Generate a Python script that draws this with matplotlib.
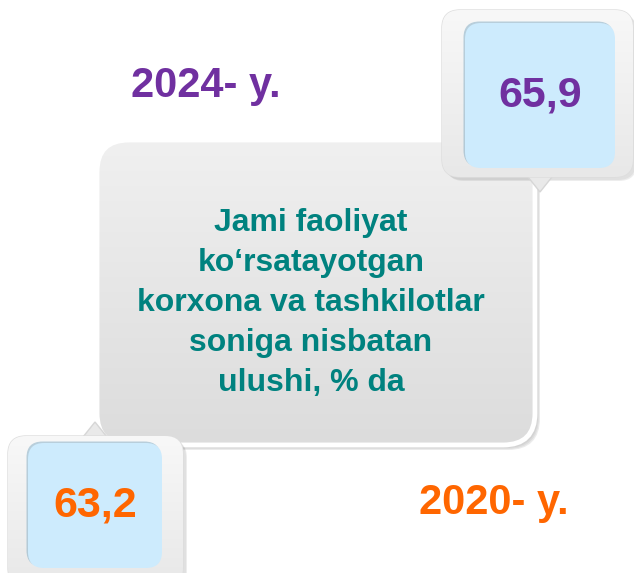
import matplotlib
matplotlib.use("Agg")
import matplotlib.pyplot as plt
import numpy as np
from matplotlib.patches import FancyBboxPatch, Polygon

# -------------------------- data --------------------------
years = ["2024- y.", "2020- y."]
values = [65.9, 63.2]
year_colors = ["#7030A0", "#FF6600"]
center_lines = ["Jami faoliyat", "ko\u2018rsatayotgan", "korxona va tashkilotlar",
                "soniga nisbatan", "ulushi, % da"]
TEAL = "#00827F"
BLUE = "#CDEBFD"

plt.rcParams['font.family'] = ['Liberation Sans', 'DejaVu Sans']

fig = plt.figure(figsize=(6.34, 5.73), dpi=100)
ax = fig.add_axes([0, 0, 1, 1])
ax.set_xlim(0, 634)
ax.set_ylim(573, 0)
ax.axis("off")


def rbox(x, y, w, h, r, **kw):
    p = FancyBboxPatch((x, y), w, h, boxstyle=f"round,pad=0,rounding_size={r}", **kw)
    ax.add_patch(p)
    return p


def gradient(patch, c_top, c_bot, extent, z):
    g = np.linspace(0, 1, 256)[:, None]
    top = np.array(matplotlib.colors.to_rgb(c_top))
    bot = np.array(matplotlib.colors.to_rgb(c_bot))
    img = top * (1 - g[..., None]) + bot * g[..., None]
    img = np.repeat(img, 2, axis=1)
    im = ax.imshow(img, extent=extent, aspect="auto", zorder=z, interpolation="bilinear")
    im.set_clip_path(patch)


# central gray box: shadow + gradient body + white rim
for i, a in enumerate([0.04, 0.06, 0.08]):
    rbox(97 + 3 + i, 140 + 3 + i, 438, 305, 32, fc="#000000", ec="none", alpha=a, zorder=1)
body = rbox(97, 140, 438, 305, 32, fc="#e4e4e4", ec="none", zorder=2)
gradient(body, "#f0f0f0", "#dcdcdc", (97, 535, 445, 140), 2.1)
rbox(97, 140, 438, 305, 32, fc="none", ec="white", lw=3.5, zorder=2.2)

for i, line in enumerate(center_lines):
    ax.text(311, 223 + 40 * i, line, ha="center", va="center", fontsize=23,
            fontweight="bold", color=TEAL, zorder=3)


# callouts (value boxes)
def callout(ox, oy, ow, oh, tip, base_y, inner, value, color, z):
    for i, a in enumerate([0.05, 0.07]):
        rbox(ox + 3 + i, oy + 3 + i, ow, oh, 18, fc="#000000", ec="none", alpha=a, zorder=z)
    tx, ty = tip
    ax.add_patch(Polygon([(tx - 16, base_y), (tx, ty), (tx + 16, base_y)], closed=True,
                         fc="#e9e9e9", ec="#d6d6d6", lw=1, zorder=z + 0.05))
    frame = rbox(ox, oy, ow, oh, 18, fc="#efefef", ec="#dddddd", lw=1, zorder=z + 0.1)
    gradient(frame, "#f8f8f8", "#e8e8e8", (ox, ox + ow, oy + oh, oy), z + 0.15)
    ix, iy, iw, ih = inner
    rbox(ix - 1.5, iy - 1.5, iw, ih, 16, fc="#8fb4c9", ec="none", alpha=0.6, zorder=z + 0.3)
    rbox(ix, iy, iw, ih, 16, fc=BLUE, ec="none", zorder=z + 0.4)
    ax.text(ix + iw / 2, iy + ih / 2, f"{value:.1f}".replace(".", ","), ha="center",
            va="center", fontsize=31, fontweight="bold", color=color, zorder=z + 0.5)


callout(442, 10, 191, 167, (540, 192), 172, (465, 23, 150, 145), values[0], year_colors[0], 4)
callout(8, 436, 175, 150, (95, 422), 442, (28, 443, 134, 125), values[1], year_colors[1], 4)

# year labels
ax.text(206, 86, years[0], ha="center", va="center", fontsize=30, fontweight="bold",
        color=year_colors[0], zorder=6)
ax.text(494, 503, years[1], ha="center", va="center", fontsize=30, fontweight="bold",
        color=year_colors[1], zorder=6)

fig.savefig("out.png", dpi=100, facecolor="white")
